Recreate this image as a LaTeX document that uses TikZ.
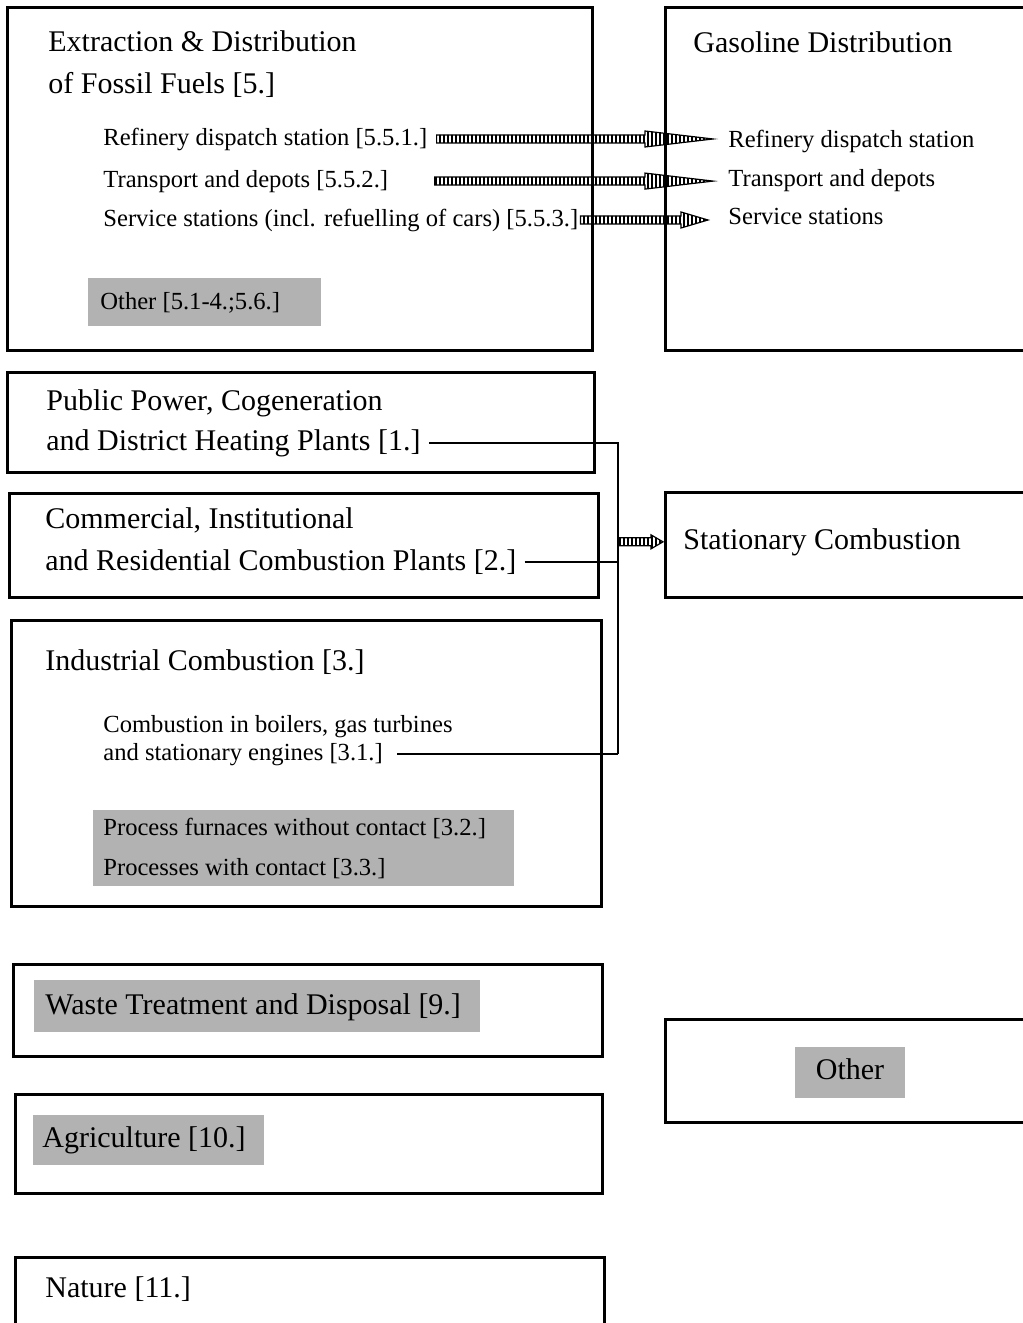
\documentclass[tikz,border=0pt]{standalone}
\usepackage{fontspec}
\setmainfont{Liberation Serif}
\usetikzlibrary{patterns,calc}

\pgfdeclarepatternformonly{fine stripes}{\pgfqpoint{-1pt}{-1pt}}{\pgfqpoint{1pt}{1pt}}{\pgfqpoint{2pt}{2pt}}{%
  \pgfsetlinewidth{1pt}%
  \pgfpathmoveto{\pgfqpoint{0pt}{-1pt}}%
  \pgfpathlineto{\pgfqpoint{0pt}{1pt}}%
  \pgfusepath{stroke}}

\tikzset{
  sector/.style={draw, line width=1.5pt},
  big/.style={anchor=base west, inner sep=0pt, font=\fontsize{15}{18}\selectfont},
  small/.style={anchor=base west, inner sep=0pt, font=\fontsize{12.3}{15}\selectfont},
  greyed/.style={fill=black!30},
  link/.style={draw, line width=1pt},
  fatarr/.style={draw, line width=0.6pt, pattern=fine stripes},
}

% from, to, head length, head half width
\newcommand\fatarrow[4]{%
  \path[fatarr] let \p1=(#1), \p2=(#2) in
    (\x1,\y1+2pt) -- (\x2-#3,\y1+2pt) -- (\x2-#3,\y1+#4) -- (\x2,\y1)
    -- (\x2-#3,\y1-#4) -- (\x2-#3,\y1-2pt) -- (\x1,\y1-2pt) -- cycle;}

\begin{document}
\begin{tikzpicture}[x=0.5pt, y=-0.5pt]
\useasboundingbox (0,0) rectangle (1023,1323);
\clip (0,0) rectangle (1023,1323);

% sectors
\draw[sector] (7,7) rectangle (592,350);
\draw[sector] (665,7) rectangle (1040,350);
\draw[sector] (7,372) rectangle (594,472);
\draw[sector] (9,493) rectangle (598,597);
\draw[sector] (11,620) rectangle (601,906);
\draw[sector] (665,492) rectangle (1040,597);
\draw[sector] (13,964) rectangle (602,1056);
\draw[sector] (15,1094) rectangle (602,1193);
\draw[sector] (665,1019) rectangle (1040,1122);
\draw[sector] (15,1257) rectangle (604,1340);

% not assigned
\fill[greyed] (88,278) rectangle (321,326);
\fill[greyed] (93,810) rectangle (514,886);
\fill[greyed] (34,980) rectangle (480,1032);
\fill[greyed] (33,1115) rectangle (264,1165);
\fill[greyed] (795,1047) rectangle (905,1098);

% fossil fuels
\node[big] (ef1) at (48,51) {Extraction \& Distribution};
\node[big] (ef2) at (48,93) {of Fossil Fuels [5.]};
\node[small] (rd1) at (103,145) {Refinery dispatch station [5.5.1.]};
\node[small] (td1) at (103,187) {Transport and depots [5.5.2.]};
\node[small] (ss1) at (103,226) {Service stations (incl. refuelling of cars) [5.5.3.]};
\node[small] (of1) at (100,309) {Other [5.1-4.;5.6.]};

% gasoline
\node[big] (gd1) at (693,52) {Gasoline Distribution};
\node[small] (gr1) at (728,147) {Refinery dispatch station};
\node[small] (gr2) at (728,186) {Transport and depots};
\node[small] (gr3) at (728,224) {Service stations};

% combustion
\node[big] (pp1) at (46,410) {Public Power, Cogeneration};
\node[big] (pp2) at (46,450) {and District Heating Plants [1.]};
\node[big] (cr1) at (45,528) {Commercial, Institutional};
\node[big] (cr2) at (45,570) {and Residential Combustion Plants [2.]};
\node[big] (ic0) at (45,670) {Industrial Combustion [3.]};
\node[small] (ic1) at (103,732) {Combustion in boilers, gas turbines};
\node[small] (ic2) at (103,760) {and stationary engines [3.1.]};
\node[small] (pf1) at (103,835) {Process furnaces without contact [3.2.]};
\node[small] (pc1) at (103,875) {Processes with contact [3.3.]};
\node[big] (sc) at (683,549) {Stationary Combustion};

% rest
\node[big] (wt) at (45,1014) {Waste Treatment and Disposal [9.]};
\node[big] (ag) at (42,1147) {Agriculture [10.]};
\node[big, anchor=base] (ot) at (850,1079) {Other};
\node[big] (na) at (45,1297) {Nature [11.]};

% links
\coordinate (jx) at (618,0);
\draw[link] ([xshift=4pt]pp2.east) -- (pp2.east -| jx) -- (ic2.east -| jx);
\draw[link] ([xshift=4pt]cr2.east) -- (cr2.east -| jx);
\draw[link] ([xshift=7pt]ic2.east) -- (ic2.east -| jx);

\fatarrow{$(rd1.east)+(9,0)$}{$(gr1.west)+(-15,0)$}{34pt}{4pt}
\fatarrow{$(td1.east -| rd1.east)+(7,0)$}{$(gr2.west)+(-15,0)$}{34pt}{4pt}
\fatarrow{$(ss1.east)+(2,0)$}{$(gr3.west)+(-20,0)$}{13.5pt}{4pt}
\fatarrow{sc.west -| jx}{$(sc.west)+(-20,0)$}{6pt}{3.5pt}
\end{tikzpicture}
\end{document}
